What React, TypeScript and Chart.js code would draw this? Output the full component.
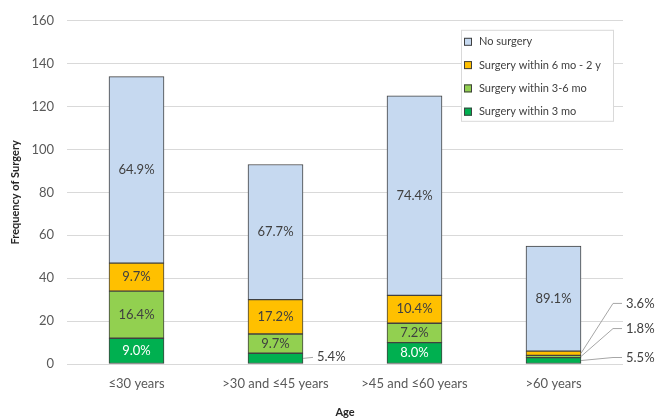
import React, { useEffect, useRef } from "react";
import { Chart, registerables } from "chart.js";

Chart.register(...registerables);

// ---- Data ----
const categories = ["≤30 years", ">30 and ≤45 years", ">45 and ≤60 years", ">60 years"];
const seriesNames = [
  "Surgery within 3 mo",
  "Surgery within 3-6 mo",
  "Surgery within 6 mo - 2 y",
  "No surgery",
];
const within3mo = [12, 5, 10, 3];
const within3to6mo = [22, 9, 9, 1];
const within6moTo2y = [13, 16, 13, 2];
const noSurgery = [87, 63, 93, 49];
const yMin = 0;
const yMax = 160;
const yStep = 20;

const seriesColors = ["#00B050", "#92D050", "#FFC000", "#C6D9F0"];
const labelColors = ["#FFFFFF", "#404040", "#404040", "#404040"];

const FONT = "Lato, 'Open Sans', 'DejaVu Sans', sans-serif";

const labelPlugin = {
  id: "segLabels",
  afterDatasetsDraw(chart: any) {
    const ctx = chart.ctx;
    const ds = chart.data.datasets;
    const n = chart.data.labels.length;
    ctx.save();
    ctx.font = `13px ${FONT}`;
    for (let j = 0; j < n; j++) {
      let total = 0;
      ds.forEach((d: any) => (total += d.data[j]));
      const externals: any[] = [];
      ds.forEach((d: any, i: number) => {
        const el = chart.getDatasetMeta(i).data[j];
        const v = d.data[j];
        const txt = ((v / total) * 100).toFixed(1) + "%";
        const h = Math.abs(el.base - el.y);
        const cy = (el.y + el.base) / 2;
        if (h >= 15) {
          ctx.fillStyle = labelColors[i];
          ctx.textAlign = "center";
          ctx.textBaseline = "middle";
          ctx.fillText(txt, el.x, cy);
        } else {
          externals.push({ txt, cy, right: el.x + el.width / 2, base: el.base });
        }
      });
      ctx.strokeStyle = "#A6A6A6";
      ctx.lineWidth = 1;
      ctx.fillStyle = "#404040";
      ctx.textAlign = "left";
      ctx.textBaseline = "middle";
      if (externals.length === 1) {
        const e = externals[0];
        ctx.beginPath();
        ctx.moveTo(e.right, e.cy);
        ctx.lineTo(e.right + 10, e.cy - 1);
        ctx.stroke();
        ctx.fillText(e.txt, e.right + 14, e.cy - 2);
      } else if (externals.length > 1) {
        externals.forEach((e, k) => {
          const ly = e.base - 6 - k * 23;
          ctx.beginPath();
          ctx.moveTo(e.right, e.cy);
          ctx.lineTo(e.right + 32, ly);
          ctx.lineTo(e.right + 41, ly);
          ctx.stroke();
          ctx.fillText(e.txt, e.right + 45, ly);
        });
      }
    }
    ctx.restore();
  },
};

const legendPlugin = {
  id: "boxLegend",
  afterDraw(chart: any) {
    const ctx = chart.ctx;
    const area = chart.chartArea;
    const w = 152;
    const h = 91;
    const x0 = area.right - 10 - w;
    const y0 = area.top + 9;
    ctx.save();
    ctx.fillStyle = "#FFFFFF";
    ctx.fillRect(x0, y0, w, h);
    ctx.strokeStyle = "#D9D9D9";
    ctx.lineWidth = 1;
    ctx.strokeRect(x0 + 0.5, y0 + 0.5, w, h);
    ctx.font = `11px ${FONT}`;
    ctx.textAlign = "left";
    ctx.textBaseline = "middle";
    const ds = chart.data.datasets;
    for (let k = 0; k < ds.length; k++) {
      const i = ds.length - 1 - k;
      const cy = y0 + 12 + k * 23.3;
      ctx.fillStyle = ds[i].backgroundColor;
      ctx.fillRect(x0 + 3, cy - 4, 8, 8);
      ctx.strokeStyle = "#404040";
      ctx.strokeRect(x0 + 3.5, cy - 3.5, 7, 7);
      ctx.fillStyle = "#404040";
      ctx.fillText(ds[i].label, x0 + 18, cy);
    }
    ctx.restore();
  },
};

export default function App() {
  const ref = useRef<HTMLCanvasElement>(null);
  useEffect(() => {
    document.body.style.margin = "0";
    const seriesData = [within3mo, within3to6mo, within6moTo2y, noSurgery];
    const chart = new Chart(ref.current as HTMLCanvasElement, {
      type: "bar",
      data: {
        labels: categories,
        datasets: seriesData.map((d, i) => ({
          label: seriesNames[i],
          data: d,
          backgroundColor: seriesColors[i],
          borderColor: "#404040",
          borderWidth: 1,
          borderSkipped: false,
          barThickness: 55,
        })),
      },
      options: {
        responsive: false,
        animation: false,
        devicePixelRatio: 1,
        layout: { padding: { left: 0, right: 35, top: 18, bottom: 0 } },
        plugins: { legend: { display: false }, tooltip: { enabled: false } },
        scales: {
          x: {
            stacked: true,
            grid: { display: false },
            border: { display: false },
            ticks: { color: "#595959", font: { family: FONT, size: 13 }, padding: 4, maxRotation: 0 },
            title: {
              display: true,
              text: "Age",
              color: "#262626",
              font: { family: FONT, size: 11, weight: "bold" },
              padding: { top: 0, bottom: -1 },
            },
            afterFit(scale: any) {
              scale.height = 54;
            },
          },
          y: {
            stacked: true,
            min: yMin,
            max: yMax,
            grid: { color: "#D9D9D9", drawTicks: false },
            border: { display: false },
            ticks: { stepSize: yStep, color: "#595959", font: { family: FONT, size: 13 }, padding: 13 },
            title: {
              display: true,
              text: "Frequency of Surgery",
              color: "#262626",
              font: { family: FONT, size: 11, weight: "bold" },
              padding: { top: 9, bottom: 0 },
            },
            afterFit(scale: any) {
              scale.width = 67;
            },
          },
        },
      },
      plugins: [labelPlugin, legendPlugin],
    });
    return () => chart.destroy();
  }, []);
  return (
    <canvas ref={ref} width={658} height={418} style={{ display: "block", width: 658, height: 418 }} />
  );
}
